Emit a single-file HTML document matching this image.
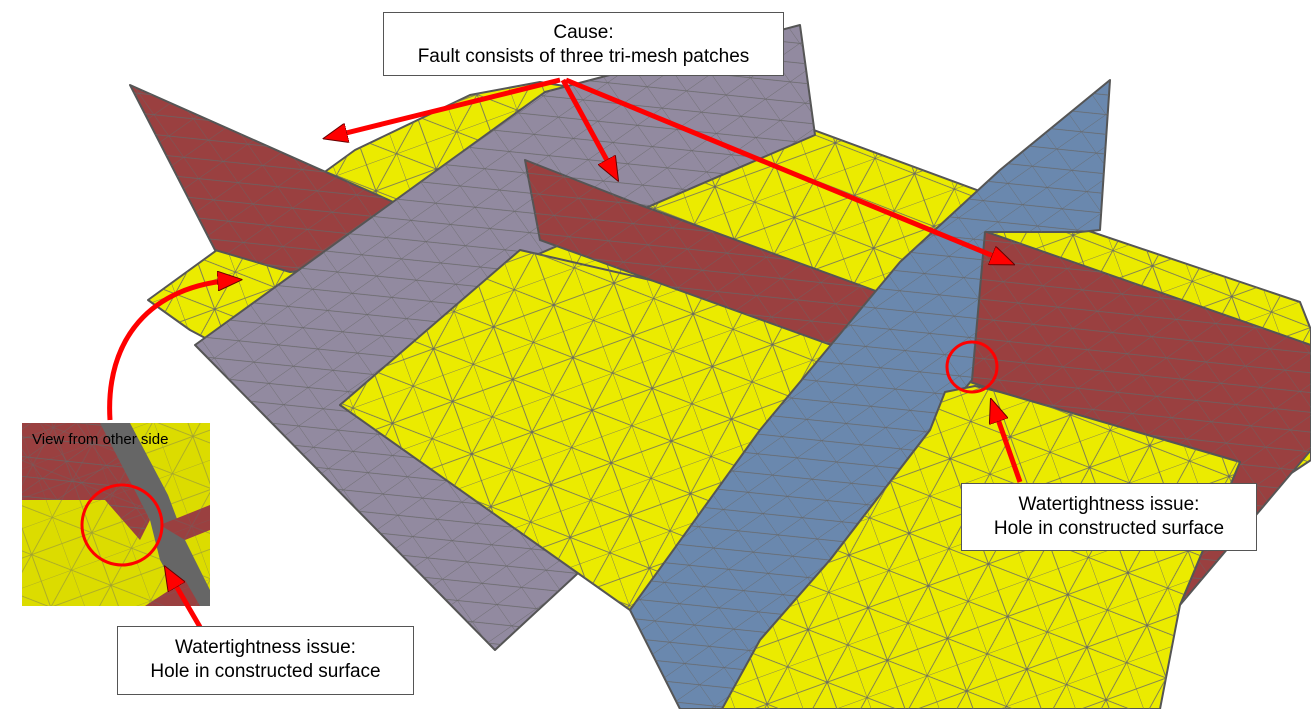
<!DOCTYPE html>
<html><head><meta charset="utf-8"><style>
html,body{margin:0;padding:0;background:#fff;}
.box{position:absolute;background:#fff;border:1px solid #555;font-family:"Liberation Sans",sans-serif;font-size:19px;text-align:center;line-height:24px;color:#000;box-sizing:border-box;}
</style></head><body>
<div style="position:relative;width:1311px;height:709px;overflow:hidden;">
<svg width="1311" height="709" viewBox="0 0 1311 709" style="position:absolute;left:0;top:0">
<defs>
<pattern id="m1" width="64" height="56" patternUnits="userSpaceOnUse" patternTransform="rotate(-20)">
<path d="M0 0H64M0 0L64 56M0 28H64M64 0L0 56" stroke="#666" stroke-width="0.8" fill="none"/>
<path d="M0 0V56M32 0V56" stroke="#666" stroke-width="0.8"/>
</pattern>
<pattern id="m2" width="30" height="26" patternUnits="userSpaceOnUse" patternTransform="rotate(-35)">
<path d="M0 0H30M0 0V26M0 0L30 26" stroke="#666" stroke-width="0.7" fill="none"/>
</pattern>
<marker id="ah" markerWidth="5" markerHeight="4" refX="3.5" refY="2" orient="auto" markerUnits="strokeWidth">
<path d="M0,0 L5,2 L0,4 Z" fill="#f00" stroke="#600" stroke-width="0.2"/>
</marker>
</defs>
<g stroke="#555" stroke-width="2" stroke-linejoin="round">
<polygon points="148,300 355,150 470,95 540,82 800,125 1080,228 1300,302 1311,330 1311,460 1100,600 700,600 190,330" fill="#ebeb00"/>
<polygon points="148,300 355,150 470,95 540,82 800,125 1080,228 1300,302 1311,330 1311,460 1100,600 700,600 190,330" fill="url(#m1)" stroke="none"/>
<polygon points="130,85 400,205 420,260 290,272 215,250" fill="#9a4040"/>
<polygon points="130,85 400,205 420,260 290,272 215,250" fill="url(#m2)" stroke="none"/>
<polygon points="195,345 545,92 800,25 815,135 520,262 340,405 590,562 495,650" fill="#928aa0"/>
<polygon points="195,345 545,92 800,25 815,135 520,262 340,405 590,562 495,650" fill="url(#m2)" stroke="none"/>
<polygon points="340,405 520,250 890,335 870,445 630,610" fill="#ebeb00"/>
<polygon points="340,405 520,250 890,335 870,445 630,610" fill="url(#m1)" stroke="none"/>
<polygon points="525,160 640,205 895,298 895,368 540,240" fill="#9a4040"/>
<polygon points="525,160 640,205 895,298 895,368 540,240" fill="url(#m2)" stroke="none"/>
<polygon points="984,231 1311,345 1311,450 1180,605 1240,462 1000,392 970,382" fill="#9a4040"/>
<polygon points="984,231 1311,345 1311,450 1180,605 1240,462 1000,392 970,382" fill="url(#m2)" stroke="none"/>
<polygon points="1000,170 1110,80 1100,230 1080,232 985,232 972,380 930,430 830,560 760,640 725,709 680,709 630,610 760,430 900,262" fill="#6a88ae"/>
<polygon points="1000,170 1110,80 1100,230 1080,232 985,232 972,380 930,430 830,560 760,640 725,709 680,709 630,610 760,430 900,262" fill="url(#m2)" stroke="none"/>
<polygon points="945,392 975,386 1000,392 1240,462 1180,605 1160,709 722,709 760,640 830,560 930,430" fill="#ebeb00"/>
<polygon points="945,392 975,386 1000,392 1240,462 1180,605 1160,709 722,709 760,640 830,560 930,430" fill="url(#m1)" stroke="none"/>
</g>
<g>
<rect x="22" y="423" width="188" height="183" fill="#dcdc00"/>
<polygon points="22,423 105,423 150,520 140,540 105,500 22,500" fill="#9a4040"/>
<polygon points="22,423 105,423 150,520 140,540 105,500 22,500" fill="url(#m2)"/>
<polygon points="100,423 130,423 168,495 185,540 210,590 210,606 185,606 160,560 150,520" fill="#666"/>
<polygon points="160,525 210,505 210,530 185,540" fill="#9a4040"/>
<polygon points="145,606 185,580 200,606" fill="#9a4040"/>
<rect x="22" y="423" width="188" height="183" fill="url(#m1)" opacity="0.5"/>
<text x="32" y="444" font-family="Liberation Sans,sans-serif" font-size="15" fill="#000">View from other side</text>
</g>
<circle cx="972" cy="367" r="25" fill="none" stroke="#f00" stroke-width="3"/>
<circle cx="122" cy="525" r="40" fill="none" stroke="#f00" stroke-width="3"/>
<g stroke="#f00" stroke-width="5" fill="none" marker-end="url(#ah)">
<line x1="560" y1="80" x2="330" y2="137"/>
<line x1="563" y1="80" x2="615" y2="175"/>
<line x1="566" y1="80" x2="1008" y2="262"/>
<path d="M110,420 C105,340 150,285 235,280"/>
<line x1="1020" y1="482" x2="993" y2="405"/>
<line x1="200" y1="627" x2="168" y2="572"/>
</g>
</svg>
<div class="box" style="left:383px;top:12px;width:401px;height:64px;padding-top:8px;">Cause:<br>Fault consists of three tri-mesh patches</div>
<div class="box" style="left:961px;top:483px;width:296px;height:68px;padding-top:9px;">Watertightness issue:<br>Hole in constructed surface</div>
<div class="box" style="left:117px;top:626px;width:297px;height:69px;padding-top:9px;">Watertightness issue:<br>Hole in constructed surface</div>
</div>
</body></html>
